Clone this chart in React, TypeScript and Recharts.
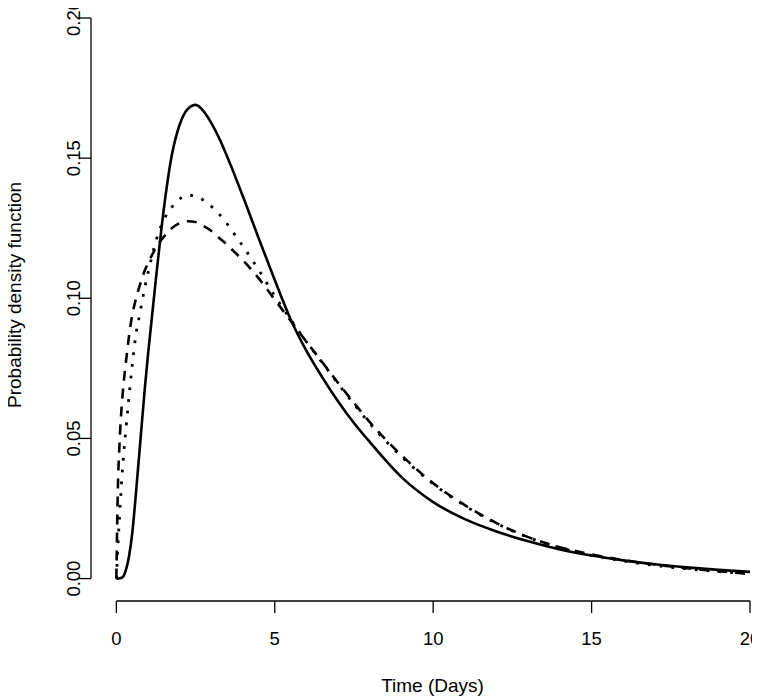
import React from 'react';
import { LineChart, Line, XAxis, YAxis, ReferenceLine, Label } from 'recharts';

// time grid (days) and the three density curves
const days = [
  0, 0.05, 0.1, 0.2, 0.3, 0.4, 0.5, 0.6, 0.75, 0.9, 1, 1.25, 1.5, 1.75, 2, 2.25, 2.5, 2.75, 3, 3.25,
  3.5, 3.75, 4, 4.5, 5, 5.5, 6, 6.5, 7, 7.5, 8, 9, 10, 11, 12, 13, 14, 15, 16, 17, 18, 19, 20,
];

const solidPdf = [
  0, 0, 0.0001, 0.0005, 0.003, 0.008, 0.016, 0.028, 0.048, 0.068, 0.08, 0.107, 0.132, 0.151, 0.162,
  0.1675, 0.169, 0.1668, 0.1625, 0.157, 0.1505, 0.1435, 0.1362, 0.1212, 0.1065, 0.0925, 0.0812,
  0.0718, 0.0632, 0.0555, 0.0487, 0.0362, 0.0273, 0.0212, 0.0168, 0.0133, 0.0104, 0.0082, 0.0065,
  0.0051, 0.004, 0.0031, 0.0024,
];

const dottedPdf = [
  0, 0.012, 0.022, 0.04, 0.053, 0.065, 0.076, 0.0856, 0.095, 0.104, 0.109, 0.1205, 0.128, 0.1325,
  0.1355, 0.1368, 0.1365, 0.135, 0.1328, 0.13, 0.1265, 0.1225, 0.1185, 0.11, 0.1008, 0.0925, 0.0845,
  0.077, 0.0695, 0.0622, 0.0553, 0.0435, 0.0338, 0.026, 0.0197, 0.0147, 0.011, 0.0083, 0.0063, 0.0047,
  0.0035, 0.0025, 0.0018,
];

const dashedPdf = [
  0, 0.033, 0.048, 0.066, 0.077, 0.0865, 0.094, 0.099, 0.105, 0.11, 0.1125, 0.118, 0.122, 0.125,
  0.1268, 0.1275, 0.1272, 0.1258, 0.124, 0.1215, 0.119, 0.1163, 0.1135, 0.107, 0.0995, 0.092, 0.0845,
  0.0772, 0.0698, 0.0627, 0.0558, 0.044, 0.034, 0.0262, 0.0198, 0.0148, 0.0112, 0.0086, 0.0066, 0.005,
  0.0037, 0.0026, 0.0017,
];

const xTicks = [0, 5, 10, 15, 20];
const yTicks = [0, 0.05, 0.1, 0.15, 0.2];

const FONT = '"Liberation Sans", Arial, Helvetica, sans-serif';
const INK = '#000';

const data = days.map((x, i) => ({
  x,
  solid: solidPdf[i],
  dotted: dottedPdf[i],
  dashed: dashedPdf[i],
}));

// R draws y tick labels rotated, centred on the tick
const YTick = (props: any) => {
  const { x, y, payload } = props;
  return (
    <text
      x={x}
      y={y}
      transform={`rotate(-90 ${x} ${y})`}
      textAnchor="middle"
      dy="0.36em"
      fontFamily={FONT}
      fontSize={18.5}
      fill={INK}
    >
      {Number(payload.value).toFixed(2)}
    </text>
  );
};

const XTitle = (props: any) => {
  const vb = props.viewBox || { x: 91, y: 601, width: 659, height: 60 };
  return (
    <text
      x={vb.x + vb.width / 2 + 12}
      y={vb.y + 91}
      textAnchor="middle"
      fontFamily={FONT}
      fontSize={19}
      fill={INK}
    >
      Time (Days)
    </text>
  );
};

const YTitle = () => (
  <text
    x={14}
    y={295}
    transform="rotate(-90 14 295)"
    textAnchor="middle"
    dy="0.36em"
    fontFamily={FONT}
    fontSize={19}
    fill={INK}
  >
    Probability density function
  </text>
);

export default function App() {
  return (
    <div style={{ width: 760, height: 696, margin: '-8px 0 0 -8px', background: '#fff' }}>
      <LineChart
        width={760}
        height={696}
        data={data}
        margin={{ top: 18, right: 10, left: 31, bottom: 35 }}
      >
        <XAxis
          type="number"
          dataKey="x"
          domain={[-0.8, 20]}
          allowDataOverflow
          ticks={xTicks}
          axisLine={false}
          tickLine={{ stroke: INK, strokeWidth: 1.3 }}
          tickSize={12}
          tickMargin={19}
          height={60}
          tick={{ fontFamily: FONT, fontSize: 18.5, fill: INK }}
        >
          <Label content={<XTitle />} />
        </XAxis>
        <YAxis
          type="number"
          domain={[-0.008, 0.2]}
          allowDataOverflow
          ticks={yTicks}
          axisLine={false}
          tickLine={{ stroke: INK, strokeWidth: 1.3 }}
          tickSize={12}
          tickMargin={6}
          width={60}
          tick={<YTick />}
        >
          <Label content={<YTitle />} />
        </YAxis>
        <ReferenceLine
          segment={[{ x: 0, y: -0.008 }, { x: 20, y: -0.008 }]}
          stroke={INK}
          strokeWidth={1.3}
        />
        <ReferenceLine
          segment={[{ x: -0.8, y: 0 }, { x: -0.8, y: 0.2 }]}
          stroke={INK}
          strokeWidth={1.3}
        />
        <Line
          type="monotone"
          dataKey="solid"
          stroke={INK}
          strokeWidth={2.6}
          dot={false}
          isAnimationActive={false}
        />
        <Line
          type="monotone"
          dataKey="dotted"
          stroke={INK}
          strokeWidth={2.8}
          strokeDasharray="2.8 9"
          dot={false}
          isAnimationActive={false}
        />
        <Line
          type="monotone"
          dataKey="dashed"
          stroke={INK}
          strokeWidth={2.6}
          strokeDasharray="10 8"
          dot={false}
          isAnimationActive={false}
        />
      </LineChart>
    </div>
  );
}
